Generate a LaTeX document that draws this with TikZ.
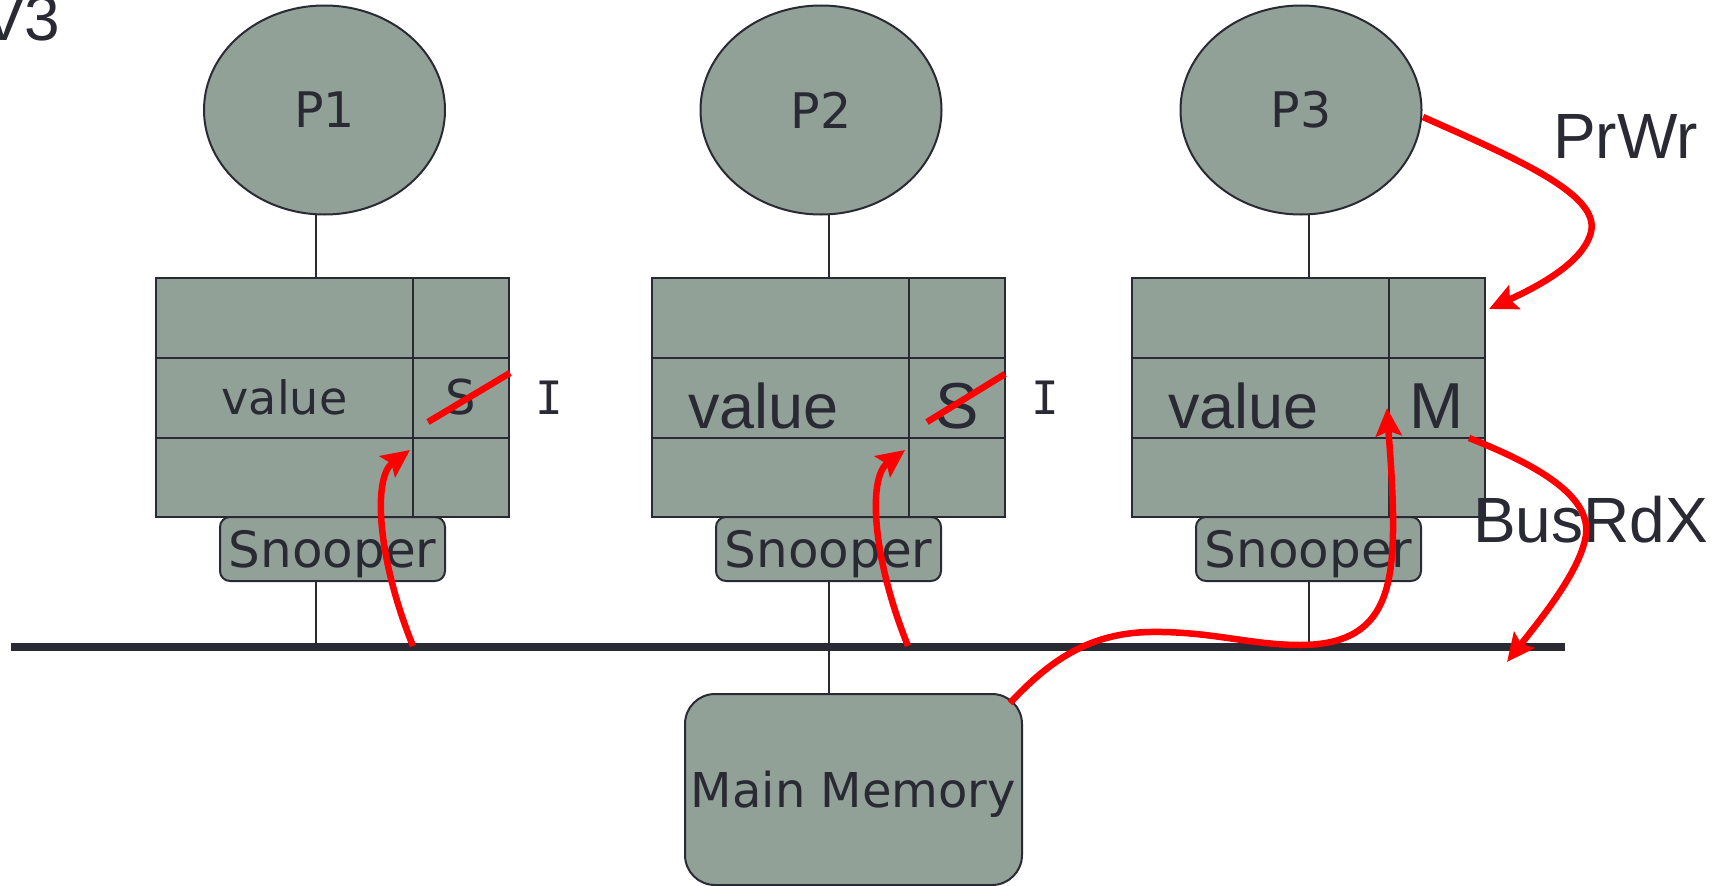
\documentclass[tikz,border=0pt]{standalone}
\usepackage{fontspec}
\setmainfont{DejaVu Sans}
\newfontfamily\arialfont{Liberation Sans}
\newfontfamily\monofont{DejaVu Sans Mono}
\usepackage{tikz}
\definecolor{Cachegray}{HTML}{92A197}
\definecolor{Inkdark}{HTML}{2A2A34}
\definecolor{Busred}{HTML}{FF0000}
\usetikzlibrary{shapes.geometric, arrows.meta, positioning}
\tikzstyle{proc} = [
    ellipse,
    minimum width=241pt,
    minimum height=209pt,
    inner sep=0pt, outer sep=0pt,
    draw=Inkdark, line width=2pt,
    fill=Cachegray,
    font=\fontsize{49pt}{56pt}\selectfont
]
\tikzstyle{cache} = [
    rectangle,
    minimum width=353pt,
    minimum height=239pt,
    inner sep=0pt, outer sep=0pt,
    draw=Inkdark, line width=2pt,
    fill=Cachegray
]
\tikzstyle{valcell} = [
    rectangle,
    minimum width=257pt,
    minimum height=80pt,
    inner sep=0pt, outer sep=0pt,
    draw=Inkdark, line width=2pt,
    fill=Cachegray,
    font=\fontsize{46pt}{52pt}\selectfont
]
\tikzstyle{valbig} = [
    valcell,
    text width=185pt, inner xsep=36pt,
    align=left, text height=62pt,
    font=\arialfont\fontsize{63pt}{70pt}\selectfont
]
\tikzstyle{tagcell} = [
    rectangle,
    minimum width=96pt,
    minimum height=80pt,
    inner sep=0pt, outer sep=0pt,
    draw=Inkdark, line width=2pt,
    fill=Cachegray,
    font=\fontsize{48pt}{54pt}\selectfont
]
\tikzstyle{tagbig} = [
    tagcell,
    text height=62pt,
    font=\arialfont\fontsize{65pt}{72pt}\selectfont
]
\tikzstyle{snoop} = [
    rectangle, rounded corners=10pt,
    minimum width=225pt,
    minimum height=64pt,
    inner sep=0pt, outer sep=0pt,
    text depth=0pt,
    draw=Inkdark, line width=2pt,
    fill=Cachegray,
    font=\fontsize{50pt}{56pt}\selectfont
]
\tikzstyle{memory} = [
    rectangle, rounded corners=30pt,
    minimum width=337pt,
    minimum height=191pt,
    inner sep=0pt, outer sep=0pt,
    text depth=0pt,
    draw=Inkdark, line width=2pt,
    fill=Cachegray,
    font=\fontsize{48pt}{54pt}\selectfont
]
\tikzstyle{note} = [
    inner sep=0pt,
    font=\arialfont\fontsize{64pt}{72pt}\selectfont
]
\tikzstyle{invmark} = [
    inner sep=0pt,
    font=\monofont\fontsize{46pt}{52pt}\selectfont
]
\tikzstyle{wire} = [
    draw=Inkdark,
    line width=2pt
]
\tikzstyle{bus} = [
    draw=Inkdark,
    line width=8pt
]
\tikzstyle{strike} = [
    draw=Busred,
    line width=6.5pt
]
\tikzstyle{redarrow} = [
    draw=Busred,
    line width=6.5pt,
    -{Stealth[length=28pt, width=26pt, inset=5pt]}
]

\begin{document}
\begin{tikzpicture}[x=1pt, y=-1pt, text=Inkdark]

    \useasboundingbox (0,0) rectangle (1722,886);
    \clip (0,0) rectangle (1722,886);

    \node (title)   [note, anchor=base west]          at (-18,40)      {V3};

    \node (P1)      [proc]                            at (324.5,110)   {P1};
    \node (P2)      [proc]                            at (821,110)     {P2};
    \node (P3)      [proc]                            at (1301,110)    {P3};

    \node (C1)      [cache]                           at (332.5,397.5) {};
    \node (V1)      [valcell, anchor=west]            at (C1.west)     {value};
    \node (S1)      [tagcell, right=0pt of V1]                         {S};
    \node (N1)      [snoop, below=0pt of C1]                           {Snooper};

    \node (C2)      [cache]                           at (828.5,397.5) {};
    \node (V2)      [valbig, anchor=west]             at (C2.west)     {value};
    \node (S2)      [tagbig, right=0pt of V2]                          {S};
    \node (N2)      [snoop, below=0pt of C2]                           {Snooper};

    \node (C3)      [cache]                           at (1308.5,397.5) {};
    \node (V3)      [valbig, anchor=west]             at (C3.west)     {value};
    \node (S3)      [tagbig, right=0pt of V3]                          {M};
    \node (N3)      [snoop, below=0pt of C3]                           {Snooper};

    \node (M)       [memory]                          at (853.5,789.5) {Main Memory};

    \node (I1)      [invmark]                         at (549,397.5)   {I};
    \node (I2)      [invmark]                         at (1045.5,397.5) {I};
    \node (prwr)    [note, anchor=base west]          at (1553,158)    {PrWr};
    \node (busrdx)  [note, anchor=base west]          at (1473,542)    {BusRdX};

    \coordinate (busW) at (11,646.5);
    \coordinate (busE) at (1565,646.5);
    \coordinate (t1)   at (316,646.5);
    \coordinate (t2)   at (829,646.5);
    \coordinate (t3)   at (1309,646.5);

    \draw [wire] (C1.north -| S1.west)   --   (C1.south -| S1.west);
    \draw [wire] (C2.north -| S2.west)   --   (C2.south -| S2.west);
    \draw [wire] (C3.north -| S3.west)   --   (C3.south -| S3.west);

    \draw [wire] (P1.south -| t1)        --   (C1.north -| t1);
    \draw [wire] (P2.south -| t2)        --   (C2.north -| t2);
    \draw [wire] (P3.south -| t3)        --   (C3.north -| t3);
    \draw [wire] (N1.south -| t1)        --   (t1);
    \draw [wire] (N2.south -| t2)        --   (t2);
    \draw [wire] (N3.south -| t3)        --   (t3);
    \draw [wire] (t2)                    --   (M.north -| t2);
    \draw [bus]  (busW)                  --   (busE);

    \coordinate (upA)   at (413,646);
    \coordinate (tipA)  at (410,450);
    \coordinate (upB)   at (908,646);
    \coordinate (tipB)  at (905,450);
    \coordinate (wrC)   at (1423,117);
    \coordinate (tipC)  at (1489,309);
    \coordinate (rdD)   at (1469,438);
    \coordinate (tipD)  at (1507,662);
    \coordinate (memE)  at (1010,703);
    \coordinate (tipE)  at (1387,408);

    \draw [strike] (428,422) -- (510,373);
    \draw [strike] (927,422) -- (1005,374);

    \draw [redarrow] (upA)  .. controls (378,560)  and (372,478)  .. (tipA);
    \draw [redarrow] (upB)  .. controls (873,560)  and (867,478)  .. (tipB);
    \draw [redarrow] (wrC)  .. controls (1520,160) and (1600,195) .. (1591,232)
                            .. controls (1583,265) and (1530,290) .. (tipC);
    \draw [redarrow] (rdD)  .. controls (1545,468) and (1595,500) .. (1585,540)
                            .. controls (1577,575) and (1540,620) .. (tipD);
    \draw [redarrow] (memE) .. controls (1050,660) and (1090,633) .. (1150,632)
                            .. controls (1210,631) and (1250,645) .. (1300,645)
                            .. controls (1385,645) and (1394,590) .. (1393,513)
                            .. controls (1392,470) and (1389,440) .. (tipE);

\end{tikzpicture}
\end{document}
